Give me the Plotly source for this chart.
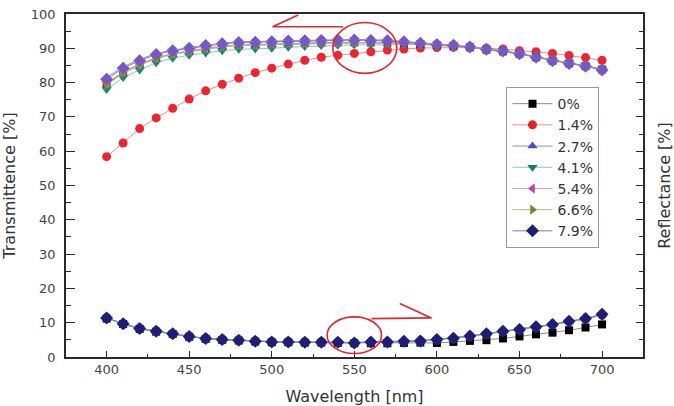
import plotly.graph_objects as go

# ---------------- data ----------------
wavelength = [400, 410, 420, 430, 440, 450, 460, 470, 480, 490, 500, 510, 520, 530, 540, 550,
              560, 570, 580, 590, 600, 610, 620, 630, 640, 650, 660, 670, 680, 690, 700]

labels = ["0%", "1.4%", "2.7%", "4.1%", "5.4%", "6.6%", "7.9%"]

# Transmittance [%]
T_0  = [79.6, 83.0, 85.3, 87.2, 88.4, 89.2, 89.9, 90.5, 90.9, 91.0, 91.2, 91.4, 91.5, 91.6, 91.7, 91.7,
        91.7, 91.6, 91.5, 91.2, 90.9, 90.7, 90.3, 89.6, 89.1, 88.4, 87.4, 86.4, 85.6, 84.8, 83.8]
T_14 = [58.4, 62.4, 66.6, 69.7, 72.5, 75.2, 77.6, 79.5, 81.3, 82.9, 84.2, 85.4, 86.5, 87.4, 88.0, 88.5,
        89.0, 89.5, 89.8, 90.1, 90.2, 90.3, 90.2, 90.0, 89.8, 89.3, 89.0, 88.5, 87.9, 87.3, 86.5]
T_27 = [81.5, 84.6, 86.8, 88.5, 89.5, 90.2, 91.0, 91.5, 91.9, 92.0, 92.1, 92.3, 92.4, 92.5, 92.6, 92.6,
        92.5, 92.4, 92.0, 91.6, 91.2, 91.0, 90.5, 89.8, 89.3, 88.5, 87.5, 86.5, 85.7, 84.9, 83.8]
T_41 = [78.0, 81.5, 83.7, 85.8, 87.1, 88.0, 88.6, 89.3, 89.7, 89.8, 90.0, 90.3, 90.5, 90.8, 90.9, 91.0,
        91.0, 91.1, 91.2, 91.1, 90.9, 90.6, 90.3, 89.6, 89.2, 88.4, 87.5, 86.6, 85.8, 85.0, 84.0]
T_54 = [79.8, 83.2, 85.4, 87.3, 88.5, 89.3, 90.0, 90.6, 91.0, 91.1, 91.3, 91.5, 91.6, 91.7, 91.8, 91.8,
        91.8, 91.7, 91.6, 91.3, 91.0, 90.8, 90.4, 89.7, 89.2, 88.5, 87.5, 86.5, 85.7, 84.9, 83.9]
T_66 = [79.3, 82.7, 85.0, 87.0, 88.2, 89.0, 89.8, 90.4, 90.8, 90.9, 91.1, 91.3, 91.4, 91.5, 91.6, 91.6,
        91.6, 91.5, 91.4, 91.2, 90.9, 90.7, 90.3, 89.6, 89.1, 88.4, 87.4, 86.5, 85.6, 84.8, 83.8]
T_79 = [81.0, 84.2, 86.4, 88.2, 89.3, 90.0, 90.8, 91.3, 91.7, 91.8, 91.9, 92.1, 92.2, 92.3, 92.4, 92.4,
        92.3, 92.2, 91.9, 91.5, 91.1, 90.9, 90.4, 89.7, 89.2, 88.4, 87.4, 86.4, 85.6, 84.8, 83.7]

# Reflectance [%]
R_0  = [11.2, 9.6, 8.2, 7.4, 6.7, 5.9, 5.3, 5.0, 4.8, 4.5, 4.3, 4.3, 4.2, 4.2, 4.1, 4.0,
        4.0, 4.0, 4.1, 4.2, 4.1, 4.4, 4.7, 4.9, 5.4, 6.0, 6.6, 7.1, 7.8, 8.6, 9.5]
R_14 = [11.3, 9.6, 8.2, 7.4, 6.7, 6.0, 5.4, 5.1, 4.8, 4.6, 4.4, 4.3, 4.3, 4.2, 4.2, 4.1,
        4.3, 4.4, 4.5, 4.7, 5.0, 5.4, 6.0, 6.7, 7.4, 7.9, 8.7, 9.4, 10.3, 11.0, 12.2]
R_27 = [11.4, 9.7, 8.3, 7.5, 6.8, 6.0, 5.4, 5.1, 4.9, 4.6, 4.4, 4.4, 4.3, 4.3, 4.3, 4.2,
        4.4, 4.4, 4.6, 4.7, 5.1, 5.5, 6.1, 6.8, 7.5, 8.0, 8.8, 9.5, 10.4, 11.1, 12.4]
R_41 = [11.3, 9.7, 8.3, 7.5, 6.8, 6.0, 5.4, 5.1, 4.9, 4.6, 4.4, 4.4, 4.3, 4.3, 4.3, 4.1,
        4.3, 4.4, 4.6, 4.7, 5.0, 5.5, 6.0, 6.7, 7.4, 8.0, 8.7, 9.4, 10.3, 11.1, 12.3]
R_54 = [11.4, 9.7, 8.3, 7.5, 6.8, 6.0, 5.4, 5.1, 4.9, 4.6, 4.4, 4.4, 4.3, 4.3, 4.3, 4.1,
        4.4, 4.4, 4.6, 4.7, 5.1, 5.5, 6.1, 6.8, 7.5, 8.0, 8.8, 9.5, 10.4, 11.2, 12.4]
R_66 = [11.4, 9.7, 8.3, 7.5, 6.8, 6.0, 5.4, 5.1, 4.9, 4.6, 4.4, 4.4, 4.3, 4.3, 4.3, 4.1,
        4.4, 4.4, 4.6, 4.7, 5.1, 5.5, 6.1, 6.8, 7.5, 8.0, 8.8, 9.5, 10.4, 11.2, 12.5]
R_79 = [11.4, 9.7, 8.3, 7.5, 6.8, 6.0, 5.4, 5.1, 4.9, 4.6, 4.4, 4.4, 4.3, 4.3, 4.3, 4.1,
        4.4, 4.4, 4.6, 4.7, 5.1, 5.5, 6.1, 6.8, 7.5, 8.0, 8.8, 9.5, 10.4, 11.2, 12.5]

T_series = [T_0, T_14, T_27, T_41, T_54, T_66, T_79]
R_series = [R_0, R_14, R_27, R_41, R_54, R_66, R_79]

# ---------------- styles ----------------
symbols = ["square", "circle", "triangle-up", "triangle-down", "triangle-left", "triangle-right", "diamond"]
sizes = [8, 9, 9, 9, 9, 9, 10]
legend_marker_colors = ["#000000", "#e8202a", "#4a50b8", "#0e8078", "#b8489a", "#6e8a28", "#1e1e78"]
line_colors = ["#8a8a8a", "#f28a8a", "#8a8ed4", "#86c8c0", "#d894c8", "#b0bc78", "#7a7ab8"]
# colours of the transmittance markers as they appear in the upper cluster
T_marker_colors = ["#3a3a3a", "#ee2530", "#7458c6", "#16857c", "#e67a2a", "#5f9a3c", "#7b55c0"]
T_order = [1, 0, 3, 5, 4, 6, 2]

fig = go.Figure()

for i in T_order:
    fig.add_trace(go.Scatter(
        x=wavelength, y=T_series[i], mode="lines+markers", name=labels[i],
        legendgroup=labels[i], showlegend=False,
        line=dict(color=line_colors[i], width=1),
        marker=dict(symbol=symbols[i], size=sizes[i], color=T_marker_colors[i], line=dict(width=0)),
    ))

for i in range(len(labels)):
    fig.add_trace(go.Scatter(
        x=wavelength, y=R_series[i], mode="lines+markers", name=labels[i],
        legendgroup=labels[i], showlegend=True, yaxis="y",
        line=dict(color=line_colors[i], width=1),
        marker=dict(symbol=symbols[i], size=sizes[i], color=legend_marker_colors[i], line=dict(width=0)),
    ))

# invisible trace to activate the right-hand axis
fig.add_trace(go.Scatter(x=[wavelength[0]], y=[R_0[0]], yaxis="y2", mode="markers",
                         marker=dict(opacity=0), showlegend=False, hoverinfo="skip"))

red = "#e2282e"
shapes = [
    dict(type="circle", xref="x", yref="y", x0=537.0, x1=575.7, y0=82.7, y1=97.5,
         line=dict(color=red, width=1.6)),
    dict(type="path", xref="x", yref="y", path="M 543.2 96.3 L 500.5 96.3 L 516.0 99.7",
         line=dict(color=red, width=1.6)),
    dict(type="circle", xref="x", yref="y", x0=533.5, x1=566.5, y0=1.0, y1=11.7,
         line=dict(color=red, width=1.6)),
    dict(type="path", xref="x", yref="y", path="M 560.4 11.2 L 596.7 11.4 L 577.5 15.6",
         line=dict(color=red, width=1.6)),
]

font_family = "DejaVu Sans"
axis_col = "#2a2a2a"

fig.update_layout(
    width=674, height=406,
    margin=dict(l=66, r=31, t=14, b=49, autoexpand=False),
    paper_bgcolor="white", plot_bgcolor="white",
    font=dict(family=font_family, color="#333333", size=12),
    shapes=shapes,
    showlegend=True,
    legend=dict(x=0.7634, y=0.787, xanchor="left", yanchor="top",
                bgcolor="white", bordercolor="#9a9a9a", borderwidth=1,
                font=dict(family=font_family, size=14, color="#333333"),
                tracegroupgap=0, itemwidth=40),
    xaxis=dict(
        range=[375.4, 724.8], showgrid=False, zeroline=False, automargin=False,
        showline=True, linecolor=axis_col, linewidth=1.5, mirror=True,
        ticks="inside", ticklen=6, tickwidth=1.2, tickcolor=axis_col,
        tickmode="array", tickvals=[400, 450, 500, 550, 600, 650, 700],
        minor=dict(ticks="inside", ticklen=3, tickwidth=1.2, tickcolor=axis_col, dtick=25),
        tickfont=dict(size=13, color="#444444"),
        title=dict(text="Wavelength [nm]", font=dict(size=16, color="#333333"), standoff=19),
    ),
    yaxis=dict(
        range=[0, 100], showgrid=False, zeroline=False, automargin=False,
        showline=True, linecolor=axis_col, linewidth=1.5,
        ticks="inside", ticklen=9, tickwidth=1.2, tickcolor=axis_col,
        dtick=10, tick0=0,
        minor=dict(ticks="inside", ticklen=5, tickwidth=1.2, tickcolor=axis_col, dtick=5),
        tickfont=dict(size=13, color="#444444"),
        ticklabelstandoff=6,
        title=dict(text="Transmittence [%]", font=dict(size=16, color="#333333"), standoff=13),
    ),
    yaxis2=dict(
        range=[0, 100], overlaying="y", side="right", showgrid=False, zeroline=False,
        automargin=False,
        showline=True, linecolor=axis_col, linewidth=1.5,
        ticks="inside", ticklen=7, tickwidth=1.2, tickcolor=axis_col,
        dtick=10, tick0=0, showticklabels=False,
        minor=dict(ticks="inside", ticklen=4, tickwidth=1.2, tickcolor=axis_col, dtick=5),
        title=dict(text="Reflectance [%]", font=dict(size=16, color="#333333"), standoff=17),
    ),
)

fig.write_html("out.html")
